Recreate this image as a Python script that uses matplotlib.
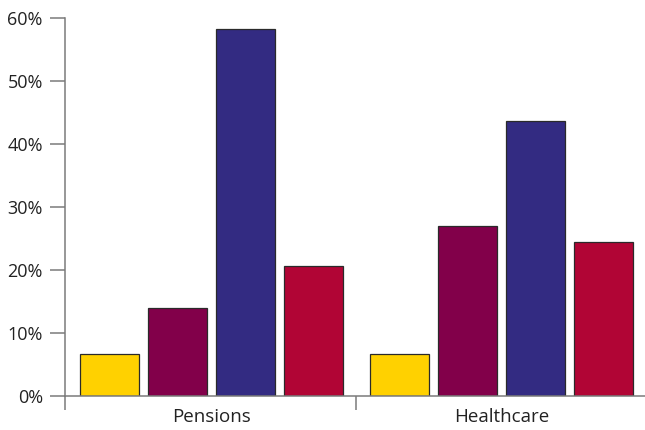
import matplotlib
matplotlib.use("Agg")
import matplotlib.pyplot as plt
import numpy as np

categories = ["Pensions", "Healthcare"]
series_yellow = [6.7, 6.7]
series_plum = [14.0, 27.0]
series_indigo = [58.3, 43.6]
series_crimson = [20.6, 24.4]
y_ticks = [0, 10, 20, 30, 40, 50, 60]
y_tick_labels = ["0%", "10%", "20%", "30%", "40%", "50%", "60%"]

series = [series_yellow, series_plum, series_indigo, series_crimson]
colors = ["#FFD100", "#82004A", "#332B82", "#B10535"]

plt.rcParams["font.family"] = ["Open Sans", "DejaVu Sans"]

fig = plt.figure(figsize=(6.45, 4.30), dpi=100)
ax = fig.add_axes([65 / 645, 1 - 396 / 430, 580 / 645, 378 / 430])

x = np.arange(len(categories))
step = 0.2345
width = 0.2034
for i, (vals, c) in enumerate(zip(series, colors)):
    ax.bar(x + (i - 1.5) * step, vals, width=width, color=c,
           edgecolor="#2a2a2a", linewidth=0.9, zorder=3)

x_lo, x_hi = -0.505, 1.495
ax.set_xlim(x_lo, x_hi)
ax.set_ylim(0, 60)

spine_color = "#7a7a7a"
for s in ["top", "right"]:
    ax.spines[s].set_visible(False)
for s in ["left", "bottom"]:
    ax.spines[s].set_color(spine_color)
    ax.spines[s].set_linewidth(1.1)
ax.spines["bottom"].set_zorder(4)

ax.set_yticks(y_ticks)
ax.set_yticklabels(y_tick_labels)
ax.tick_params(axis="y", length=11, width=1.1, color=spine_color,
               labelsize=13, labelcolor="#222222", pad=5)

ax.set_xticks(x)
ax.set_xticklabels(categories)
ax.tick_params(axis="x", which="major", length=0, labelsize=13.5,
               labelcolor="#222222", pad=9)
ax.set_xticks([x_lo, 0.5], minor=True)
ax.tick_params(axis="x", which="minor", length=10, width=1.1, color=spine_color)

fig.savefig("out.png", dpi=100)
